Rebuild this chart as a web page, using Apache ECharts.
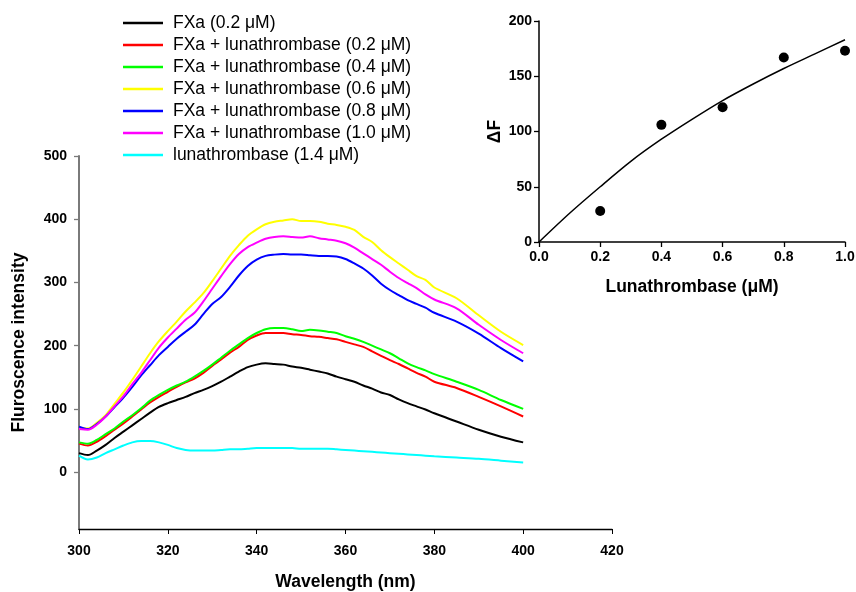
<!DOCTYPE html>
<html>
<head>
<meta charset="utf-8">
<script src="https://cdn.jsdelivr.net/npm/echarts@6/dist/echarts.min.js"></script>
<style>
html,body{margin:0;padding:0;background:#fff;}
#c{width:856px;height:592px;}
</style>
</head>
<body>
<div id="c"></div>
<script>
// ---- data ----
const wavelength = [300,302,304,306,308,310,312,314,316,318,320,322,324,326,328,330,332,334,336,338,340,
  342,344,346,348,350,352,354,356,358,360,362,364,366,368,370,372,374,376,378,380,385,390,395,400];
const fxa = [30,27,34,43,54,64,74,84,94,103,109,114,119,125,130,136,143,151,159,166,170,
  172,171,170,167,165,162,159,156,151,147,143,137,132,126,122,115,109,104,99,93,80,67,56,47];
const fxaLuna02 = [45,42,48,57,67,77,88,99,110,119,127,135,142,148,157,168,178,189,198,209,216,
  220,220,220,218,217,215,214,212,210,206,202,198,191,184,177,171,164,157,151,143,133,119,104,88];
const fxaLuna04 = [47,45,51,60,69,80,90,101,113,122,130,137,143,151,160,170,181,192,202,212,220,
  226,228,228,226,223,225,224,222,220,215,211,206,200,194,188,180,172,166,161,155,143,130,114,100];
const fxaLuna06 = [70,69,78,90,108,126,146,167,188,207,223,238,254,268,283,302,322,342,359,374,384,
  392,396,398,400,397,397,396,393,391,388,383,372,364,351,340,330,320,310,304,292,275,248,222,201];
const fxaLuna08 = [72,68,76,88,103,118,135,153,169,185,198,211,222,233,250,266,277,293,311,326,336,
  342,344,345,344,344,343,342,342,341,337,330,322,311,298,288,280,272,266,260,252,238,219,196,175];
const fxaLuna10 = [68,67,75,88,104,120,139,157,177,197,213,227,241,252,270,290,310,329,345,356,363,
  369,372,373,372,371,373,370,368,366,362,355,346,337,328,317,307,299,291,281,273,259,233,209,188];
const luna14 = [26,20,23,30,36,42,47,49,49,47,43,38,35,34,34,34,35,36,36,37,38,
  38,38,38,38,37,37,37,37,36,35,34,33,32,31,30,29,28,27,26,25,23,21,18,15];

const seriesNames = ['FXa (0.2 μM)','FXa + lunathrombase (0.2 μM)','FXa + lunathrombase (0.4 μM)',
  'FXa + lunathrombase (0.6 μM)','FXa + lunathrombase (0.8 μM)','FXa + lunathrombase (1.0 μM)','lunathrombase (1.4 μM)'];
const seriesColors = ['#000000','#ff0000','#00ff00','#ffff00','#0000ff','#ff00ff','#00ffff'];
const seriesValues = [fxa, fxaLuna02, fxaLuna04, fxaLuna06, fxaLuna08, fxaLuna10, luna14];
const mainYTicks = [0,100,200,300,400,500];

// inset
const insetConc = [0.2,0.4,0.6,0.8,1.0];
const insetDeltaF = [28,106,122,167,173];
const fitConc = [0,0.1,0.2,0.3,0.4,0.5,0.6,0.7,0.8,0.9,1.0];
const fitDeltaF = [0,26,50,73,93,111,128,143,157,170,183];

// ---- chart ----
const FONT = 'Arial, "Liberation Sans", sans-serif';
const chart = echarts.init(document.getElementById('c'), null, {renderer:'canvas'});

const mainSeries = seriesValues.map((vals, i) => ({
  name: seriesNames[i],
  type: 'line',
  xAxisIndex: 0, yAxisIndex: 0,
  data: wavelength.map((w, j) => [w, vals[j]]),
  symbol: 'none',
  smooth: 0.3,
  lineStyle: {color: seriesColors[i], width: 2},
  itemStyle: {color: seriesColors[i]}
}));

const tickFont = {fontFamily: FONT, fontWeight: 'bold', fontSize: 14, color: '#000'};
const titleFont = {fontFamily: FONT, fontWeight: 'bold', fontSize: 17.5, color: '#000'};

chart.setOption({
  animation: false,
  backgroundColor: '#fff',
  legend: {
    data: seriesNames,
    orient: 'vertical',
    left: 123,
    top: 12,
    padding: 0,
    icon: 'rect',
    itemWidth: 40,
    itemHeight: 2.5,
    itemGap: 0,
    textStyle: {fontFamily: FONT, fontSize: 17.5, color: '#000', lineHeight: 22, padding: [0,0,0,5]},
    selectedMode: false
  },
  grid: [
    {left: 79, right: 244, top: 156, bottom: 63, outerBoundsMode: 'none', containLabel: false},
    {left: 539, right: 11, top: 21, bottom: 350, outerBoundsMode: 'none', containLabel: false}
  ],
  xAxis: [
    {
      gridIndex: 0, type: 'value', min: 300, max: 420, interval: 20,
      axisLine: {show: true, onZero: false, lineStyle: {color: '#000', width: 1.3}},
      axisTick: {show: true, inside: false, length: 5, lineStyle: {color: '#000'}},
      axisLabel: Object.assign({margin: 15}, tickFont),
      splitLine: {show: false},
      name: 'Wavelength (nm)', nameLocation: 'middle', nameGap: 44,
      nameTextStyle: titleFont
    },
    {
      gridIndex: 1, type: 'value', min: 0, max: 1, interval: 0.2,
      axisLine: {show: true, onZero: false, lineStyle: {color: '#000', width: 1.5}},
      axisTick: {show: true, inside: false, length: 5, lineStyle: {color: '#000', width: 1.3}},
      axisLabel: Object.assign({margin: 8, formatter: v => v.toFixed(1)}, tickFont),
      splitLine: {show: false},
      name: 'Lunathrombase (μM)', nameLocation: 'middle', nameGap: 36,
      nameTextStyle: titleFont
    }
  ],
  yAxis: [
    {
      gridIndex: 0, type: 'value', min: -90, max: 500,
      axisLine: {show: true, onZero: false, lineStyle: {color: '#7a7a7a', width: 2}},
      axisTick: {show: true, inside: false, length: 5, lineStyle: {color: '#7a7a7a', width: 1.3},
        customValues: mainYTicks},
      axisLabel: Object.assign({margin: 12, customValues: mainYTicks}, tickFont),
      splitLine: {show: false},
      name: 'Fluroscence intensity', nameLocation: 'middle', nameGap: 51, nameRotate: 90,
      nameTextStyle: titleFont
    },
    {
      gridIndex: 1, type: 'value', min: 0, max: 200, interval: 50,
      axisLine: {show: true, onZero: false, lineStyle: {color: '#000', width: 1.5}},
      axisTick: {show: true, inside: false, length: 5, lineStyle: {color: '#000', width: 1.3}},
      axisLabel: Object.assign({margin: 7}, tickFont),
      splitLine: {show: false},
      name: 'ΔF', nameLocation: 'middle', nameGap: 35, nameRotate: 90,
      nameTextStyle: titleFont
    }
  ],
  series: mainSeries.concat([
    {
      name: 'fit', type: 'line', xAxisIndex: 1, yAxisIndex: 1,
      data: fitConc.map((c, j) => [c, fitDeltaF[j]]),
      symbol: 'none', smooth: 0.3,
      lineStyle: {color: '#000', width: 1.5}
    },
    {
      name: 'points', type: 'scatter', xAxisIndex: 1, yAxisIndex: 1,
      data: insetConc.map((c, j) => [c, insetDeltaF[j]]),
      symbol: 'circle', symbolSize: 10,
      itemStyle: {color: '#000', opacity: 1}
    }
  ])
});
</script>
</body>
</html>
